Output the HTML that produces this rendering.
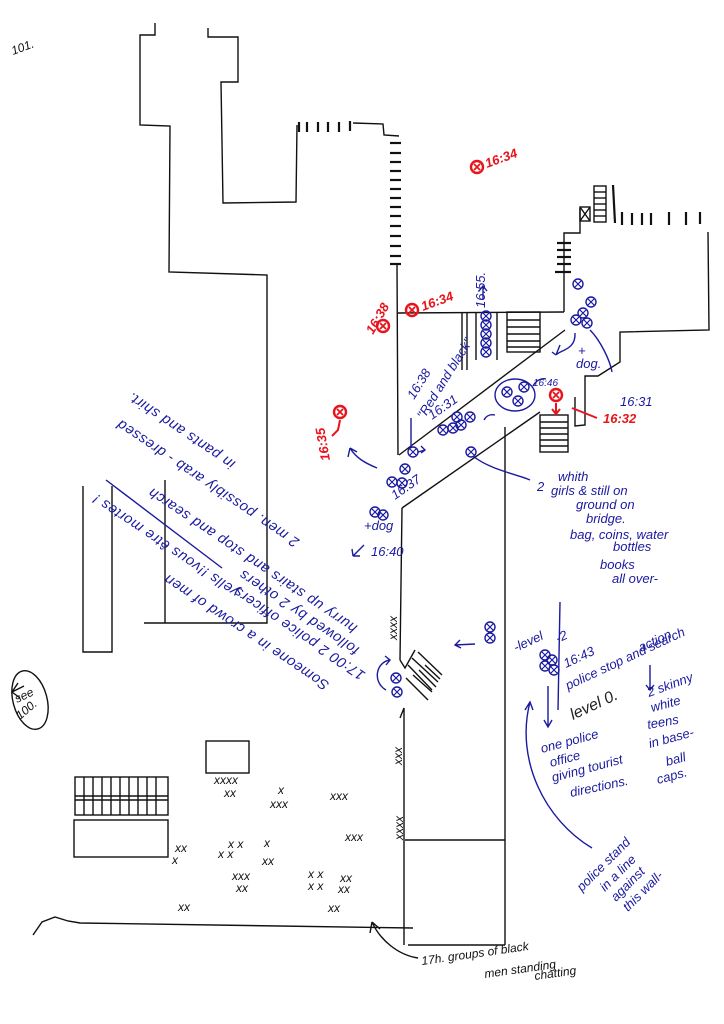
<!DOCTYPE html>
<html><head><meta charset="utf-8"><style>
html,body{margin:0;padding:0;background:#fff;}
svg{display:block;}
.k{stroke:#111;stroke-width:1.4;fill:none;}
.kb{stroke:#111;stroke-width:2.2;fill:none;}
.b{stroke:#1a1aa0;stroke-width:1.4;fill:none;}
.r{stroke:#e8141c;stroke-width:2;fill:none;}
text{font-family:"Liberation Sans",sans-serif;font-style:italic;}
.tb{fill:#1a1aa0;font-size:13px;}
.tk{fill:#111;font-size:12px;}
.tr{fill:#e8141c;font-size:13px;font-weight:bold;}
.x{fill:#111;font-size:12px;font-style:normal;}
.ud{font-size:14.5px;letter-spacing:0.6px;}
</style></head><body>
<svg width="724" height="1024" viewBox="0 0 724 1024" xmlns="http://www.w3.org/2000/svg">
<defs>
<g id="pb"><circle r="5" fill="none" stroke="#1a1aa0" stroke-width="1.4"/><path d="M-3,-3L3,3M3,-3L-3,3" stroke="#1a1aa0" stroke-width="1.2"/></g>
<g id="pr"><circle r="6" fill="none" stroke="#e8141c" stroke-width="2.4"/><path d="M-3,-3L3,3M3,-3L-3,3" stroke="#e8141c" stroke-width="1.8"/></g>
</defs>

<text x="10" y="52" class="tk" font-size="16" transform="rotate(-20 20 45)">101.</text>

<polyline class="k" points="155,23 155,35 140,35 140,125 170,126 169,272 267,275 267,623 144,623"/>
<polyline class="k" points="83,486 83,652 112,652 112,486"/>
<line class="k" x1="165" y1="480" x2="165" y2="623"/>
<polyline class="k" points="208,28 208,37 238,37 238,82 221,82 223,203 296,202 297,125"/>
<g class="kb">
<line x1="299" y1="122" x2="299" y2="132"/><line x1="307" y1="122" x2="307" y2="132"/><line x1="318" y1="122" x2="318" y2="132"/><line x1="328" y1="122" x2="328" y2="132"/><line x1="339" y1="122" x2="339" y2="132"/><line x1="350" y1="121" x2="350" y2="131"/>
</g>
<polyline class="k" points="353,123 383,124 384,135 399,136"/>
<g class="kb">
<line x1="390" y1="143" x2="401" y2="143"/><line x1="390" y1="153" x2="401" y2="153"/><line x1="390" y1="162" x2="401" y2="162"/><line x1="390" y1="171" x2="401" y2="171"/><line x1="390" y1="180" x2="401" y2="180"/><line x1="390" y1="189" x2="401" y2="189"/><line x1="390" y1="198" x2="401" y2="198"/><line x1="390" y1="207" x2="401" y2="207"/><line x1="390" y1="216" x2="401" y2="216"/><line x1="390" y1="226" x2="401" y2="226"/><line x1="390" y1="236" x2="401" y2="236"/><line x1="390" y1="246" x2="401" y2="246"/><line x1="390" y1="256" x2="401" y2="256"/><line x1="390" y1="264" x2="401" y2="264"/>
</g>
<line class="k" x1="397" y1="265" x2="398" y2="455"/>
<line class="k" x1="398" y1="313" x2="564" y2="312"/>
<line class="k" x1="564" y1="312" x2="564" y2="240"/>
<g class="kb"><line x1="557" y1="243" x2="571" y2="243"/><line x1="557" y1="250" x2="571" y2="250"/><line x1="557" y1="257" x2="571" y2="257"/><line x1="557" y1="264" x2="571" y2="264"/><line x1="555" y1="272" x2="571" y2="272"/></g>
<polyline class="k" points="564,240 564,233 580,233 580,208"/>
<rect class="k" x="580" y="207" width="10" height="14"/><path class="k" d="M580,207L590,221M590,207L580,221"/>
<rect class="k" x="594" y="186" width="12" height="36"/>
<g class="k"><line x1="594" y1="192" x2="606" y2="192"/><line x1="594" y1="198" x2="606" y2="198"/><line x1="594" y1="204" x2="606" y2="204"/><line x1="594" y1="210" x2="606" y2="210"/><line x1="594" y1="216" x2="606" y2="216"/></g>
<g class="kb"><line x1="613" y1="185" x2="615" y2="223"/><line x1="622" y1="212" x2="622" y2="225"/><line x1="632" y1="213" x2="632" y2="225"/><line x1="642" y1="213" x2="642" y2="225"/><line x1="651" y1="213" x2="651" y2="225"/><line x1="669" y1="212" x2="669" y2="225"/><line x1="686" y1="212" x2="686" y2="225"/><line x1="700" y1="212" x2="700" y2="224"/></g>
<polyline class="k" points="708,232 709,330 620,332 620,362 598,376 585,376 585,425 575,426 575,397"/>
<line class="k" x1="399" y1="455" x2="565" y2="330"/>
<line class="k" x1="402" y1="508" x2="540" y2="412"/>
<line class="k" x1="505" y1="427" x2="505" y2="945"/>
<line class="k" x1="402" y1="508" x2="400" y2="660"/>
<polyline class="k" points="400,660 405,668 415,650"/>
<polyline class="k" points="400,718 404,708 404,945"/>
<g class="k"><line x1="408" y1="665" x2="432" y2="690"/><line x1="412" y1="658" x2="438" y2="682"/><line x1="418" y1="652" x2="442" y2="675"/><line x1="406" y1="678" x2="428" y2="700"/><line x1="413" y1="675" x2="432" y2="692"/><line x1="419" y1="670" x2="436" y2="687"/><line x1="425" y1="665" x2="440" y2="679"/></g>
<line class="k" x1="405" y1="840" x2="505" y2="840"/>
<line class="k" x1="408" y1="945" x2="505" y2="945"/>
<rect class="k" x="540" y="415" width="28" height="37"/>
<g class="k"><line x1="540" y1="422" x2="568" y2="422"/><line x1="540" y1="428" x2="568" y2="428"/><line x1="540" y1="434" x2="568" y2="434"/><line x1="540" y1="440" x2="568" y2="440"/><line x1="540" y1="446" x2="568" y2="446"/></g>
<rect class="k" x="507" y="312" width="33" height="40"/>
<g class="k"><line x1="507" y1="320" x2="540" y2="320"/><line x1="507" y1="327" x2="540" y2="327"/><line x1="507" y1="334" x2="540" y2="334"/><line x1="507" y1="341" x2="540" y2="341"/><line x1="507" y1="347" x2="540" y2="347"/></g>
<line class="k" x1="462" y1="313" x2="462" y2="370"/><line class="k" x1="467" y1="313" x2="467" y2="370"/>
<line class="k" x1="476" y1="313" x2="476" y2="360"/><line class="k" x1="497" y1="313" x2="497" y2="360"/>
<polyline class="k" points="33,935 42,922 55,917 68,921 80,923 413,928"/>
<rect class="k" x="206" y="741" width="43" height="32"/>
<rect class="k" x="75" y="777" width="93" height="38"/>
<line class="k" x1="75" y1="796" x2="168" y2="796"/><line class="k" x1="75" y1="800" x2="168" y2="800"/>
<g class="k"><line x1="84" y1="777" x2="84" y2="815"/><line x1="93" y1="777" x2="93" y2="815"/><line x1="102" y1="777" x2="102" y2="815"/><line x1="111" y1="777" x2="111" y2="815"/><line x1="120" y1="777" x2="120" y2="815"/><line x1="129" y1="777" x2="129" y2="815"/><line x1="138" y1="777" x2="138" y2="815"/><line x1="147" y1="777" x2="147" y2="815"/><line x1="156" y1="777" x2="156" y2="815"/></g>
<rect class="k" x="74" y="820" width="94" height="37"/>
<ellipse class="k" cx="30" cy="700" rx="17" ry="30" transform="rotate(-15 30 700)"/>
<text class="tk" font-size="13" transform="translate(17,703) rotate(-25)">see</text>
<text class="tk" font-size="13" transform="translate(20,720) rotate(-40)">100.</text>
<path class="k" d="M24,686 L12,692 M12,692 L18,683 M12,692 L20,698" />

<g class="x">
<text x="214" y="784">xxxx</text><text x="224" y="797">xx</text>
<text x="278" y="794">x</text><text x="270" y="808">xxx</text>
<text x="330" y="800">xxx</text>
<text x="345" y="841">xxx</text>
<text x="175" y="852">xx</text><text x="172" y="864">x</text>
<text x="218" y="858">x x</text><text x="228" y="848">x x</text>
<text x="264" y="847">x</text><text x="262" y="865">xx</text>
<text x="232" y="880">xxx</text><text x="236" y="892">xx</text>
<text x="308" y="878">x x</text><text x="308" y="890">x x</text>
<text x="340" y="882">xx</text><text x="338" y="893">xx</text>
<text x="178" y="911">xx</text>
<text x="328" y="912">xx</text>
</g>
<g class="x" transform="translate(397,640) rotate(-90)"><text>xxxx</text></g>
<g class="x" transform="translate(402,765) rotate(-90)"><text>xxx</text></g>
<g class="x" transform="translate(403,840) rotate(-90)"><text>xxxx</text></g>

<path class="k" d="M418,958 C398,955 380,940 372,922 M372,922 L370,933 M372,922 L380,929"/>
<text class="tk" x="422" y="965" transform="rotate(-8 422 965)">17h. groups of black</text>
<text class="tk" x="485" y="978" transform="rotate(-8 485 978)">men standing</text>
<text class="tk" x="535" y="980" transform="rotate(-8 535 980)">chatting</text>

<use href="#pr" x="477" y="167"/><text class="tr" x="487" y="168" transform="rotate(-20 487 168)">16:34</text>
<use href="#pr" x="412" y="310"/><text class="tr" x="423" y="311" transform="rotate(-20 423 311)">16:34</text>
<use href="#pr" x="383" y="326"/><text class="tr" x="373" y="335" transform="rotate(-60 373 335)">16:38</text>
<use href="#pr" x="340" y="412"/><path class="r" d="M340,420 L338,430 L332,436"/>
<text class="tr" x="330" y="460" transform="rotate(-100 330 460)">16:35</text>
<use href="#pr" x="556" y="395"/><path class="r" d="M556,403 L556,414 M552,409 L556,414 L560,409"/>
<line class="r" x1="572" y1="408" x2="597" y2="418"/><text class="tr" x="603" y="423">16:32</text>

<g>
<use href="#pb" x="486" y="316"/><use href="#pb" x="486" y="325"/><use href="#pb" x="486" y="334"/><use href="#pb" x="486" y="343"/><use href="#pb" x="486" y="352"/>
<use href="#pb" x="578" y="284"/><use href="#pb" x="591" y="302"/><use href="#pb" x="583" y="313"/><use href="#pb" x="576" y="320"/><use href="#pb" x="587" y="323"/>
<use href="#pb" x="507" y="392"/><use href="#pb" x="524" y="387"/><use href="#pb" x="518" y="401"/>
<use href="#pb" x="457" y="417"/><use href="#pb" x="470" y="417"/><use href="#pb" x="443" y="430"/><use href="#pb" x="453" y="428"/><use href="#pb" x="461" y="425"/>
<use href="#pb" x="413" y="452"/><use href="#pb" x="471" y="452"/>
<use href="#pb" x="405" y="469"/><use href="#pb" x="392" y="482"/><use href="#pb" x="402" y="483"/>
<use href="#pb" x="375" y="512"/><use href="#pb" x="383" y="515"/>
<use href="#pb" x="490" y="627"/><use href="#pb" x="490" y="638"/>
<use href="#pb" x="396" y="678"/><use href="#pb" x="397" y="692"/>
<use href="#pb" x="545" y="655"/><use href="#pb" x="552" y="660"/><use href="#pb" x="545" y="666"/><use href="#pb" x="554" y="670"/>
</g>
<ellipse class="b" cx="515" cy="395" rx="20" ry="16"/>
<g class="b">
<path d="M483,300 L483,286 M479,291 L483,286 L487,291"/>
<path d="M575,333 C576,350 560,350 556,355 M556,355 L560,345 M556,355 L552,352"/>
<path d="M590,330 C600,340 610,360 612,372"/>
<path d="M533,386 C536,380 542,378 546,379"/>
<path d="M484,420 C486,416 490,414 495,415"/>
<path d="M418,452 L425,450 M421,446 L425,450 L421,453"/>
<line x1="411" y1="418" x2="411" y2="448"/>
<path d="M377,468 C365,463 356,458 350,448 M350,448 L348,457 M350,448 L357,452"/>
<path d="M364,545 L353,556 M353,556 L352,549 M353,556 L360,556"/>
<path d="M475,644 L455,645 M460,640 L455,645 L461,648"/>
<path d="M386,690 C372,682 376,662 390,660 M385,656 L390,660 L386,665"/>
<path d="M473,456 C490,470 520,475 530,480"/>
<line x1="560" y1="602" x2="558" y2="710"/>
<path d="M548,686 L548,727 M544,720 L548,727 L552,720"/>
<path d="M592,848 C545,820 515,760 530,702 M525,710 L530,702 L533,710"/>
<path d="M650,665 L650,690 M646,685 L650,690 L654,685"/>
<line x1="106" y1="480" x2="222" y2="568"/>
</g>
<g class="tb">
<text transform="translate(485,308) rotate(-90)">16:55.</text>
<text x="578" y="355">+</text><text x="576" y="368">dog.</text>
<text x="620" y="406">16:31</text>
<text x="533" y="386" font-size="10">16:46</text>
<text transform="translate(432,420) rotate(-35)">16:31</text>
<text transform="translate(414,400) rotate(-58)">16:38</text>
<text transform="translate(424,420) rotate(-58)">"Red and black"</text>
<text transform="translate(395,500) rotate(-35)">16:37</text>
<text x="364" y="530">+dog</text>
<text x="371" y="556">16:40</text>
<text x="537" y="491">2</text>
<text x="558" y="481">whith</text>
<text x="551" y="495">girls &amp; still on</text>
<text x="576" y="509">ground on</text>
<text x="586" y="523">bridge.</text>
<text x="570" y="539">bag, coins, water</text>
<text x="613" y="551">bottles</text>
<text x="600" y="569">books</text>
<text x="612" y="583">all over-</text>
<text transform="translate(516,652) rotate(-25)">-level</text>
<text transform="translate(558,643) rotate(-25)">-2</text>
<text transform="translate(566,668) rotate(-25)">16:43</text>
<text transform="translate(568,690) rotate(-25)">police stop and search</text>
<text transform="translate(641,652) rotate(-25)">action</text>
<text transform="translate(573,720) rotate(-25)" font-size="16" style="fill:#222">level 0.</text>
<text transform="translate(649,697) rotate(-20)">2 skinny</text>
<text transform="translate(652,712) rotate(-15)">white</text>
<text transform="translate(648,729) rotate(-10)">teens</text>
<text transform="translate(650,748) rotate(-15)">in base-</text>
<text transform="translate(667,766) rotate(-15)">ball</text>
<text transform="translate(658,784) rotate(-15)">caps.</text>
<text transform="translate(542,753) rotate(-15)">one police</text>
<text transform="translate(551,767) rotate(-15)">office</text>
<text transform="translate(553,782) rotate(-15)">giving tourist</text>
<text transform="translate(571,797) rotate(-12)">directions.</text>
<text transform="translate(582,892) rotate(-45)">police stand</text>
<text transform="translate(605,892) rotate(-45)">in a line</text>
<text transform="translate(616,902) rotate(-45)">against</text>
<text transform="translate(628,912) rotate(-45)">this wall-</text>
<text class="ud" transform="translate(330,683) rotate(214)">Someone in a crowd of men</text>
<text class="ud" transform="translate(240,590) rotate(214)">yells !!vous être mortes !</text>
<text class="ud" transform="translate(366,673) rotate(214)">17:00 2 police officers</text>
<text class="ud" transform="translate(360,648) rotate(214)">followed by 2 others</text>
<text class="ud" transform="translate(358,626) rotate(214)">hurry up stairs and stop and search</text>
<text class="ud" transform="translate(300,540) rotate(214)">2 men. possibly arab - dressed</text>
<text class="ud" transform="translate(236,462) rotate(214)">in pants and shirt.</text>
</g>
</svg>
</body></html>
